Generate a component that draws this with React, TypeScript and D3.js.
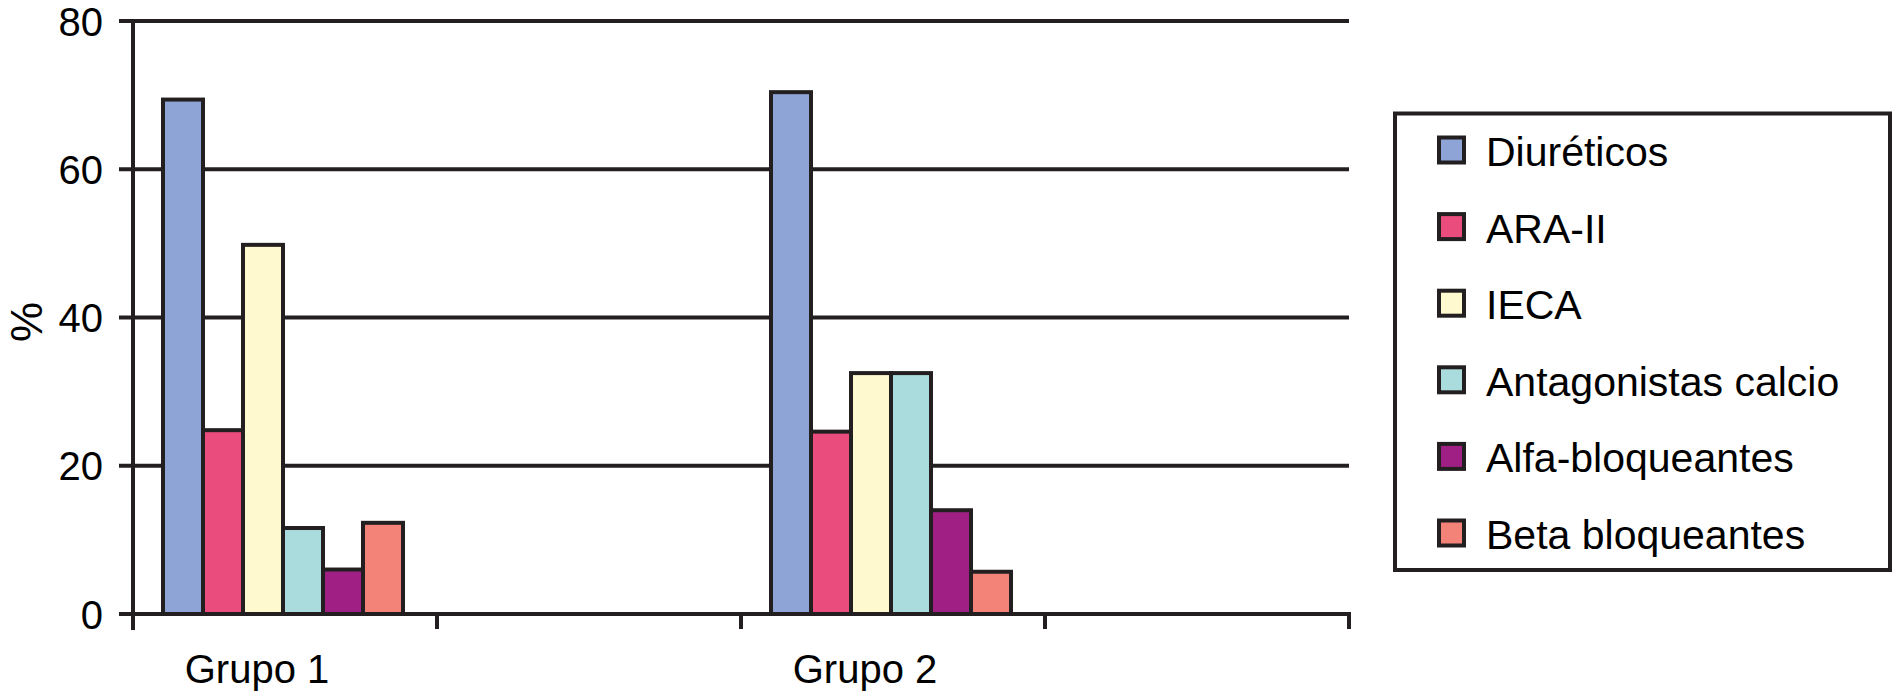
import React from "react";
import * as d3 from "d3";

const slots = ["Grupo 1", "gap1", "Grupo 2", "gap2"];
const categories = ["Grupo 1", "Grupo 2"];
const seriesNames = ["Diuréticos", "ARA-II", "IECA", "Antagonistas calcio", "Alfa-bloqueantes", "Beta bloqueantes"];
const diureticos = [69.4, 70.4];
const araII = [24.8, 24.6];
const ieca = [49.8, 32.5];
const antagonistas = [11.6, 32.5];
const alfa = [6.0, 14.0];
const beta = [12.3, 5.7];
const seriesValues = [diureticos, araII, ieca, antagonistas, alfa, beta];
const colors = ["#8ea4d6", "#ea4c7e", "#fff9d0", "#aadcdd", "#a01f85", "#f38379"];
const yTicks = [0, 20, 40, 60, 80];

const W = 1893;
const H = 692;
const INK = "#231f20";
const FONT = "'Liberation Sans', Arial, Helvetica, sans-serif";

export default function App() {
  const x = d3.scaleBand<string>().domain(slots).range([133, 1349]);
  const y = d3.scaleLinear().domain([0, 80]).range([614, 21]);
  const x1 = d3.scaleBand<string>().domain(seriesNames).range([30, 270]);
  const legendY = d3.scalePoint<string>().domain(seriesNames).range([150, 533]);
  const tickEdges = [...slots.map((s) => x(s) as number), 1349];

  return (
    <svg
      width={W}
      height={H}
      style={{ position: "absolute", left: 0, top: 0, background: "#fff" }}
      fontFamily={FONT}
    >
      <rect x={0} y={0} width={W} height={H} fill="#fff" />
      {yTicks.map((t) => (
        <g key={t}>
          <line x1={119} x2={1349} y1={y(t)} y2={y(t)} stroke={INK} strokeWidth={4} />
          <text x={103} y={y(t)} dy={14.5} textAnchor="end" fontSize={40} fill="#000">
            {t}
          </text>
        </g>
      ))}
      {categories.map((c, ci) => (
        <g key={c} transform={`translate(${x(c)},0)`}>
          {seriesNames.map((s, si) => {
            const v = seriesValues[si][ci];
            return (
              <rect
                key={s}
                x={x1(s)}
                width={x1.bandwidth()}
                y={y(v)}
                height={y(0) - y(v)}
                fill={colors[si]}
                stroke={INK}
                strokeWidth={4}
              />
            );
          })}
        </g>
      ))}
      <line x1={133} x2={133} y1={19} y2={630} stroke={INK} strokeWidth={4} />
      <line x1={119} x2={1351} y1={y(0)} y2={y(0)} stroke={INK} strokeWidth={4} />
      {tickEdges.map((e, i) => (
        <line key={i} x1={e} x2={e} y1={y(0)} y2={629} stroke={INK} strokeWidth={4} />
      ))}
      {categories.map((c) => (
        <text
          key={c}
          x={(x(c) as number) + x.bandwidth() / 2 - 28}
          y={683}
          textAnchor="middle"
          fontSize={40}
          fill="#000"
        >
          {c}
        </text>
      ))}
      <text transform="translate(42,322) rotate(-90)" textAnchor="middle" fontSize={45} fill="#000">
        %
      </text>
      <rect x={1395} y={113.5} width={495} height={456.5} fill="#fff" stroke={INK} strokeWidth={4} />
      {seriesNames.map((s, si) => (
        <g key={s} transform={`translate(0,${legendY(s)})`}>
          <rect x={1439} y={-12.5} width={25} height={25} fill={colors[si]} stroke={INK} strokeWidth={4} />
          <text x={1486} y={16} fontSize={41} fill="#000">
            {s}
          </text>
        </g>
      ))}
    </svg>
  );
}
